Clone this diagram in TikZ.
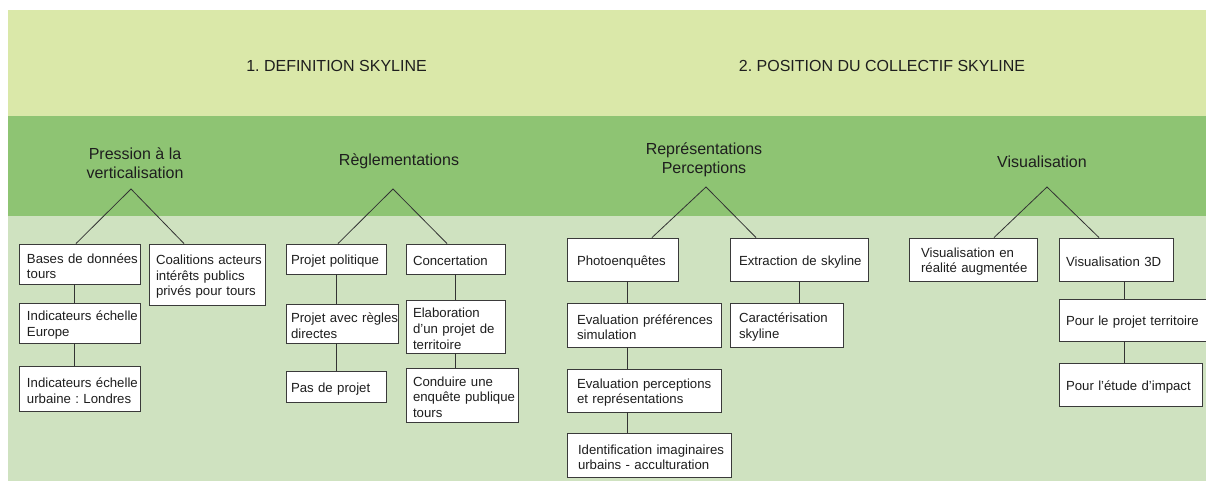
\documentclass[tikz,border=0pt]{standalone}
\usepackage{fontspec}
\setmainfont{Liberation Sans}
\frenchspacing
\definecolor{topband}{HTML}{DAE8A9}
\definecolor{midband}{HTML}{8EC473}
\definecolor{lowband}{HTML}{CFE2C0}
\definecolor{txt}{HTML}{1E1E1E}
\definecolor{bord}{HTML}{3A3A3A}
\definecolor{lin}{HTML}{333333}
\newcommand\bl[1]{\mbox{#1}}
\begin{document}
\begin{tikzpicture}[x=1pt,y=-1pt,
  hdr/.style={font=\fontsize{16}{19}\selectfont, text=txt, align=center, inner sep=0pt},
  bx/.style={draw=bord, fill=white, line width=0.9pt, inner sep=0pt, align=left,
    font=\fontsize{13.2}{15.7}\selectfont, text=txt,
    execute at begin node={\rule{0pt}{14pt}}},
  conn/.style={draw=lin, line width=0.8pt}]
\useasboundingbox (0,0) rectangle (1206,481);
\fill[white] (0,0) rectangle (1206,481);
\fill[topband] (8,10) rectangle (1206,116);
\fill[midband] (8,116) rectangle (1206,216);
\fill[lowband] (8,216) rectangle (1206,481);

% headers
\node[hdr] (h1) at (336.5,66) {1. DEFINITION SKYLINE};
\node[hdr] (h2) at (882,66) {2. POSITION DU COLLECTIF SKYLINE};

% categories
\node[hdr] (c1) at (135,163) {Pression à la\\verticalisation};
\node[hdr] (c2) at (399,161) {Règlementations};
\node[hdr] (c3) at (704,160) {Représentations\\Perceptions};
\node[hdr] (c4) at (1042,162) {Visualisation};

\coordinate (a1) at (131,189);
\coordinate (a2) at (393,189);
\coordinate (a3) at (706,187);
\coordinate (a4) at (1047,187);

% column coordinates
\coordinate (bcol) at (74,0);
\coordinate (rcolA) at (336,0);
\coordinate (rcolB) at (455.5,0);
\coordinate (pcol) at (627,0);
\coordinate (ecol) at (799,0);
\coordinate (vcol) at (1124,0);

% tree 1
\node[bx, minimum width=121pt, minimum height=40pt, text width=105pt] (b1) at (79.5,264) {\bl{Bases de données}\\tours};
\node[bx, minimum width=121pt, minimum height=40pt, text width=105pt] (b2) at (79.5,323) {\bl{Indicateurs échelle}\\Europe};
\node[bx, minimum width=121pt, minimum height=45pt, text width=105pt] (b3) at (79.5,388.5) {\bl{Indicateurs échelle}\\\bl{urbaine : Londres}};
\node[bx, minimum width=116pt, minimum height=61pt, text width=102pt] (b4) at (207,274.5) {\bl{Coalitions acteurs}\\\bl{intérêts publics}\\\bl{privés pour tours}};

% tree 2
\node[bx, minimum width=100pt, minimum height=30pt, text width=90pt] (r1) at (336,259) {\bl{Projet politique}};
\node[bx, minimum width=112pt, minimum height=39pt, text width=102pt] (r2) at (342,323.5) {\bl{Projet avec règles}\\directes};
\node[bx, minimum width=100pt, minimum height=31pt, text width=90pt] (r3) at (336,386.5) {\bl{Pas de projet}};
\node[bx, minimum width=99pt, minimum height=30pt, text width=85pt] (r4) at (455.5,259) {\bl{Concertation}};
\node[bx, minimum width=99pt, minimum height=53pt, text width=85pt] (r5) at (455.5,326.5) {\bl{Elaboration}\\\bl{d'un projet de}\\\bl{territoire}};
\node[bx, minimum width=112pt, minimum height=54pt, text width=98pt] (r6) at (462,395) {\bl{Conduire une}\\\bl{enquête publique}\\tours};

% tree 3
\node[bx, minimum width=111pt, minimum height=43pt, text width=91pt] (p1) at (622.5,259.5) {\bl{Photoenquêtes}};
\node[bx, minimum width=154pt, minimum height=44pt, text width=134pt] (p2) at (644,325) {\bl{Evaluation préférences}\\simulation};
\node[bx, minimum width=154pt, minimum height=43pt, text width=134pt] (p3) at (644,390.5) {\bl{Evaluation perceptions}\\\bl{et représentations}};
\node[bx, minimum width=164pt, minimum height=44pt, text width=142pt] (p4) at (649,455) {\bl{Identification imaginaires}\\\bl{urbains - acculturation}};
\node[bx, minimum width=138pt, minimum height=43pt, text width=120pt] (e1) at (799,259.5) {\bl{Extraction de skyline}};
\node[bx, minimum width=113pt, minimum height=44pt, text width=95pt] (e2) at (786.5,325) {\bl{Caractérisation}\\skyline};

% tree 4
\node[bx, minimum width=128pt, minimum height=43pt, text width=104pt] (v1) at (973,259.5) {\bl{Visualisation en}\\\bl{réalité augmentée}};
\node[bx, minimum width=114pt, minimum height=43pt, text width=100pt] (v2) at (1116,259.5) {\bl{Visualisation 3D}};
\node[bx, minimum width=148pt, minimum height=42pt, text width=134pt] (v3) at (1133,320) {\bl{Pour le projet territoire}};
\node[bx, minimum width=143pt, minimum height=43pt, text width=129pt] (v4) at (1130.5,384.5) {\bl{Pour l'étude d'impact}};

% triangle connectors
\draw[conn] ([xshift=-3.5pt]b1.north) -- (a1) -- ([xshift=-23pt]b4.north);
\draw[conn] ([xshift=2pt]r1.north) -- (a2) -- ([xshift=-8.5pt]r4.north);
\draw[conn] ([xshift=29.5pt]p1.north) -- (a3) -- ([xshift=-43pt]e1.north);
\draw[conn] ([xshift=21pt]v1.north) -- (a4) -- ([xshift=-17pt]v2.north);

% vertical connectors
\draw[conn] (b1.south -| bcol) -- (b2.north -| bcol);
\draw[conn] (b2.south -| bcol) -- (b3.north -| bcol);
\draw[conn] (r1.south -| rcolA) -- (r2.north -| rcolA);
\draw[conn] (r2.south -| rcolA) -- (r3.north -| rcolA);
\draw[conn] (r4.south -| rcolB) -- (r5.north -| rcolB);
\draw[conn] (r5.south -| rcolB) -- (r6.north -| rcolB);
\draw[conn] (p1.south -| pcol) -- (p2.north -| pcol);
\draw[conn] (p2.south -| pcol) -- (p3.north -| pcol);
\draw[conn] (p3.south -| pcol) -- (p4.north -| pcol);
\draw[conn] (e1.south -| ecol) -- (e2.north -| ecol);
\draw[conn] (v2.south -| vcol) -- (v3.north -| vcol);
\draw[conn] (v3.south -| vcol) -- (v4.north -| vcol);
\end{tikzpicture}
\end{document}
